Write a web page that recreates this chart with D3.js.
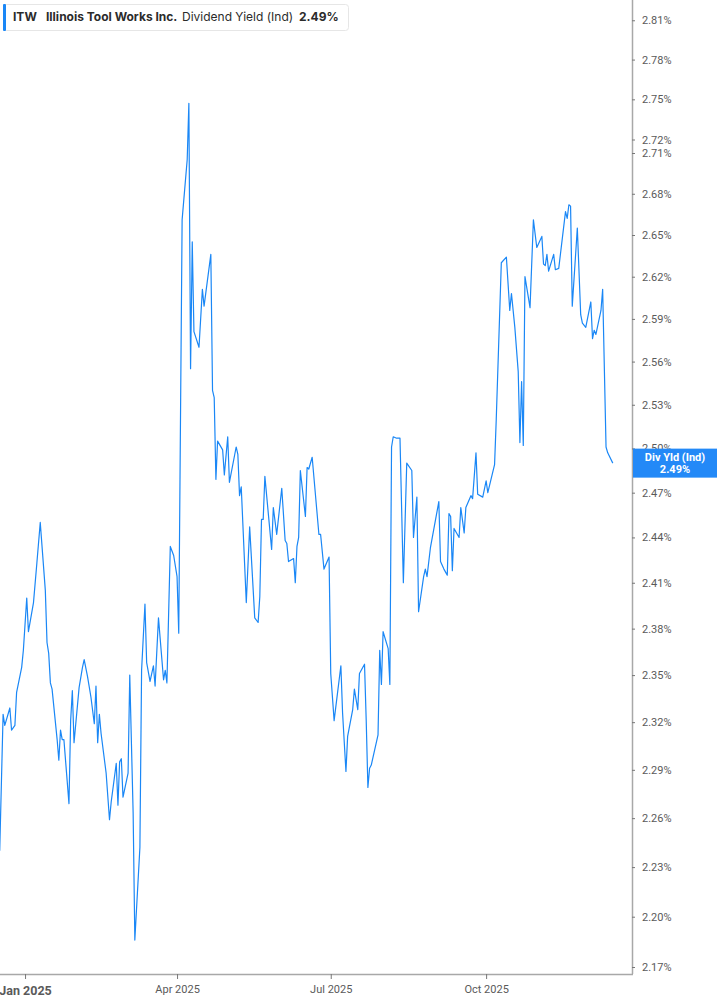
<!DOCTYPE html>
<html>
<head>
<meta charset="utf-8">
<script src="https://cdn.jsdelivr.net/npm/d3@7"></script>
<style>
  html, body { margin: 0; padding: 0; background: #ffffff; }
  svg { display: block; }
</style>
</head>
<body>
<svg id="chart" width="717" height="1005"></svg>
<script>
// ---- DATA ----
const ticker = "ITW";
const companyName = "Illinois Tool Works Inc.";
const metricName = "Dividend Yield (Ind)";
const lastValueLabel = "2.49%";
const badgeTitle = "Div Yld (Ind)";

// days since 2025-01-01
const dayOffsets = [-15,-13,-12,-9,-8,-6,-5,-2,-1,1,2,5,7,9,12,13,14,15,16,19,20,21,22,23,26,27,28,29,32,34,35,37,39,41,42,43,44,45,48,50,51,54,55,56,57,58,61,62,64,65,68,69,71,72,74,76,77,79,82,83,84,86,88,90,91,93,96,97,98,99,100,103,105,106,110,111,112,113,114,117,118,120,121,125,126,127,128,131,133,136,138,139,140,141,142,146,147,149,152,154,155,156,159,160,161,162,163,166,167,168,170,174,175,177,180,181,183,187,188,190,191,194,195,197,198,201,202,203,204,205,209,210,211,212,215,216,217,218,220,222,224,226,229,230,232,233,236,237,238,240,245,246,248,250,251,252,253,254,257,258,260,261,264,265,267,268,271,273,274,278,279,282,285,287,288,290,292,293,294,295,296,299,301,303,306,307,308,309,310,313,314,316,320,321,322,323,324,327,329,330,332,335,336,337,338,341,342,344,345,348];

// dividend yield, %
const yieldValues = [2.240,2.325,2.318,2.329,2.315,2.318,2.339,2.355,2.366,2.400,2.378,2.397,2.423,2.450,2.405,2.371,2.364,2.345,2.341,2.309,2.296,2.315,2.309,2.309,2.269,2.321,2.340,2.307,2.342,2.355,2.360,2.349,2.336,2.319,2.343,2.307,2.325,2.313,2.288,2.259,2.270,2.294,2.268,2.295,2.297,2.273,2.288,2.350,2.263,2.186,2.242,2.353,2.396,2.358,2.346,2.356,2.343,2.387,2.347,2.353,2.345,2.434,2.428,2.414,2.377,2.661,2.705,2.747,2.555,2.645,2.581,2.570,2.611,2.599,2.636,2.540,2.535,2.479,2.505,2.499,2.482,2.508,2.477,2.501,2.496,2.468,2.474,2.397,2.447,2.387,2.384,2.401,2.452,2.452,2.481,2.432,2.460,2.442,2.473,2.438,2.436,2.424,2.426,2.410,2.434,2.440,2.485,2.454,2.487,2.486,2.494,2.442,2.442,2.419,2.427,2.351,2.321,2.356,2.326,2.289,2.311,2.328,2.341,2.328,2.351,2.357,2.321,2.279,2.291,2.293,2.312,2.366,2.344,2.378,2.367,2.344,2.501,2.508,2.507,2.507,2.410,2.490,2.485,2.440,2.467,2.391,2.414,2.419,2.414,2.433,2.464,2.424,2.419,2.415,2.456,2.454,2.418,2.446,2.440,2.460,2.443,2.460,2.468,2.466,2.497,2.469,2.467,2.478,2.470,2.489,2.520,2.630,2.634,2.596,2.608,2.584,2.553,2.504,2.546,2.502,2.620,2.598,2.661,2.641,2.649,2.629,2.628,2.636,2.624,2.636,2.625,2.626,2.667,2.662,2.672,2.671,2.599,2.655,2.593,2.587,2.584,2.602,2.576,2.582,2.579,2.596,2.611,2.501,2.497,2.490];

const yTickValues = [2.81,2.78,2.75,2.72,2.71,2.68,2.65,2.62,2.59,2.56,2.53,2.50,2.47,2.44,2.41,2.38,2.35,2.32,2.29,2.26,2.23,2.20,2.17];
const xTickDates = ["2025-01-01","2025-04-01","2025-07-01","2025-10-01"];
const xTickLabels = ["Jan 2025","Apr 2025","Jul 2025","Oct 2025"];
const lastValue = 2.49;

// ---- LAYOUT ----
const W = 717, H = 1005;
const plotRight = 632, plotBottom = 974;
const base = new Date(2025, 0, 1);
const parse = d3.timeParse("%Y-%m-%d");
const data = dayOffsets.map((d, i) => ({ date: d3.timeDay.offset(base, d), v: yieldValues[i] }));

const x = d3.scaleTime()
  .domain([d3.timeHour.offset(base, -14.8 * 24), d3.timeHour.offset(base, 359.4 * 24)])
  .range([0, plotRight]);
// log scale: 2.17 at y=967, 2.81 at y≈20
const y = d3.scaleLog()
  .domain([2.17 * Math.exp(-7 / 3663), 2.17 * Math.exp(967 / 3663)])
  .range([plotBottom, 0]);

const svg = d3.select("#chart");
svg.append("rect").attr("width", W).attr("height", H).attr("fill", "#ffffff");

svg.append("defs").append("clipPath").attr("id", "plotclip")
  .append("rect").attr("x", 0).attr("y", 0).attr("width", plotRight).attr("height", plotBottom);

// line
const line = d3.line().x(d => x(d.date)).y(d => y(d.v));
svg.append("path")
  .datum(data)
  .attr("clip-path", "url(#plotclip)")
  .attr("fill", "none")
  .attr("stroke", "#1a87f6")
  .attr("stroke-width", 1.2)
  .attr("stroke-linejoin", "round")
  .attr("d", line);

const fontAxis = "Roboto, 'Noto Sans', sans-serif";

// right axis
const yAxis = d3.axisRight(y).tickValues(yTickValues).tickSize(3).tickSizeOuter(0)
  .tickFormat(d => d3.format(".2f")(d) + "%");
const gy = svg.append("g").attr("transform", `translate(${plotRight},0)`).call(yAxis);
gy.select(".domain").attr("stroke", "#a8a8a8").attr("stroke-width", 1.5)
  .attr("d", `M0.5,0V${plotBottom}`);
gy.selectAll(".tick line").attr("stroke", "#777");
gy.selectAll(".tick text").attr("x", 10).attr("fill", "#5a5a5a")
  .style("font-family", fontAxis).style("font-size", "11px");

// bottom axis
const xAxis = d3.axisBottom(x).tickValues(xTickDates.map(parse)).tickSize(5).tickSizeOuter(0)
  .tickFormat((d, i) => xTickLabels[i]);
const gx = svg.append("g").attr("transform", `translate(0,${plotBottom})`).call(xAxis);
gx.select(".domain").attr("stroke", "#a8a8a8").attr("stroke-width", 1.5)
  .attr("d", `M0,0.5H${plotRight + 1}`);
gx.selectAll(".tick line").attr("stroke", "#777");
gx.selectAll(".tick text").attr("y", 11).attr("fill", "#5a5a5a")
  .style("font-family", fontAxis).style("font-size", "11px");
gx.selectAll(".tick text").filter((d, i) => i === 0)
  .style("font-weight", "bold").style("font-size", "12.5px").attr("y", 12);

// last value badge
const by = y(lastValue);
svg.append("rect").attr("x", plotRight + 1).attr("y", by - 14.5).attr("width", W - plotRight - 1).attr("height", 29)
  .attr("fill", "#2389f7");
svg.append("text").attr("x", 675).attr("y", by - 5).attr("text-anchor", "middle")
  .attr("dominant-baseline", "middle").attr("fill", "#ffffff")
  .style("font-family", fontAxis).style("font-size", "11px").style("font-weight", "bold")
  .text(badgeTitle);
svg.append("text").attr("x", 675).attr("y", by + 7).attr("text-anchor", "middle")
  .attr("dominant-baseline", "middle").attr("fill", "#ffffff")
  .style("font-family", fontAxis).style("font-size", "11px").style("font-weight", "bold")
  .text(lastValueLabel);

// legend box
const lg = svg.append("g");
lg.append("rect").attr("x", 3.5).attr("y", 4.5).attr("width", 345).attr("height", 26).attr("rx", 3)
  .attr("fill", "#ffffff").attr("stroke", "#e6e6e6");
lg.append("rect").attr("x", 3).attr("y", 4).attr("width", 3).attr("height", 27).attr("rx", 1)
  .attr("fill", "#1a87f6");
const legendFont = "Inter, Roboto, sans-serif";
const legendItems = [
  { t: ticker, x: 13, w: "bold" },
  { t: companyName, x: 46, w: "bold" },
  { t: metricName, x: 182, w: "normal" },
  { t: lastValueLabel, x: 299, w: "bold" }
];
lg.selectAll("text.leg").data(legendItems).enter().append("text")
  .attr("class", "leg")
  .attr("x", d => d.x).attr("y", 17.5)
  .attr("dominant-baseline", "middle")
  .attr("fill", "#2b2b2b")
  .style("font-family", legendFont).style("font-size", "12px")
  .style("font-weight", d => d.w)
  .text(d => d.t);
</script>
</body>
</html>
